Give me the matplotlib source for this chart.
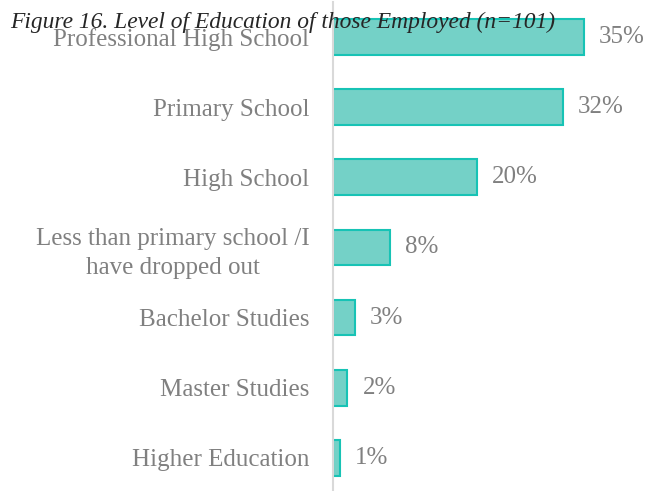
import matplotlib.pyplot as plt

categories = ['Professional High School', 'Primary School', 'High School',
              'Less than primary school /I\nhave dropped out', 'Bachelor Studies',
              'Master Studies', 'Higher Education']
values = [35, 32, 20, 8, 3, 2, 1]

plt.rcParams['font.family'] = ['Liberation Serif', 'DejaVu Serif']

fig = plt.figure(figsize=(6.45, 4.91), dpi=100)
ax = fig.add_axes([333 / 645, -0.004, 287 / 645, 1])

y = list(range(len(categories)))
ax.barh(y, values, height=0.51, color='#74d1c7', edgecolor='#17c3b5', linewidth=1.5)
ax.set_ylim(len(categories) - 0.5, -0.5)
ax.set_xlim(0, 40)

for yi, v in zip(y, values):
    ax.text(v + 2.1, yi, f'{v}%', va='center', ha='left', fontsize=18, color='#808080')

ax.set_yticks(y)
ax.set_yticklabels(categories, fontsize=18, color='#808080', linespacing=1.4,
                   multialignment='center')
ax.tick_params(axis='y', length=0, pad=17)
ax.set_xticks([])
for s in ['top', 'right', 'bottom']:
    ax.spines[s].set_visible(False)
ax.spines['left'].set_color('#d9d9d9')
ax.spines['left'].set_linewidth(1.5)

fig.text(10 / 645, 1 - 22 / 491, 'Figure 16. Level of Education of those Employed (n=101)',
         fontsize=16.9, style='italic', color='#262626', va='center', ha='left')

fig.savefig('out.png', dpi=100)
